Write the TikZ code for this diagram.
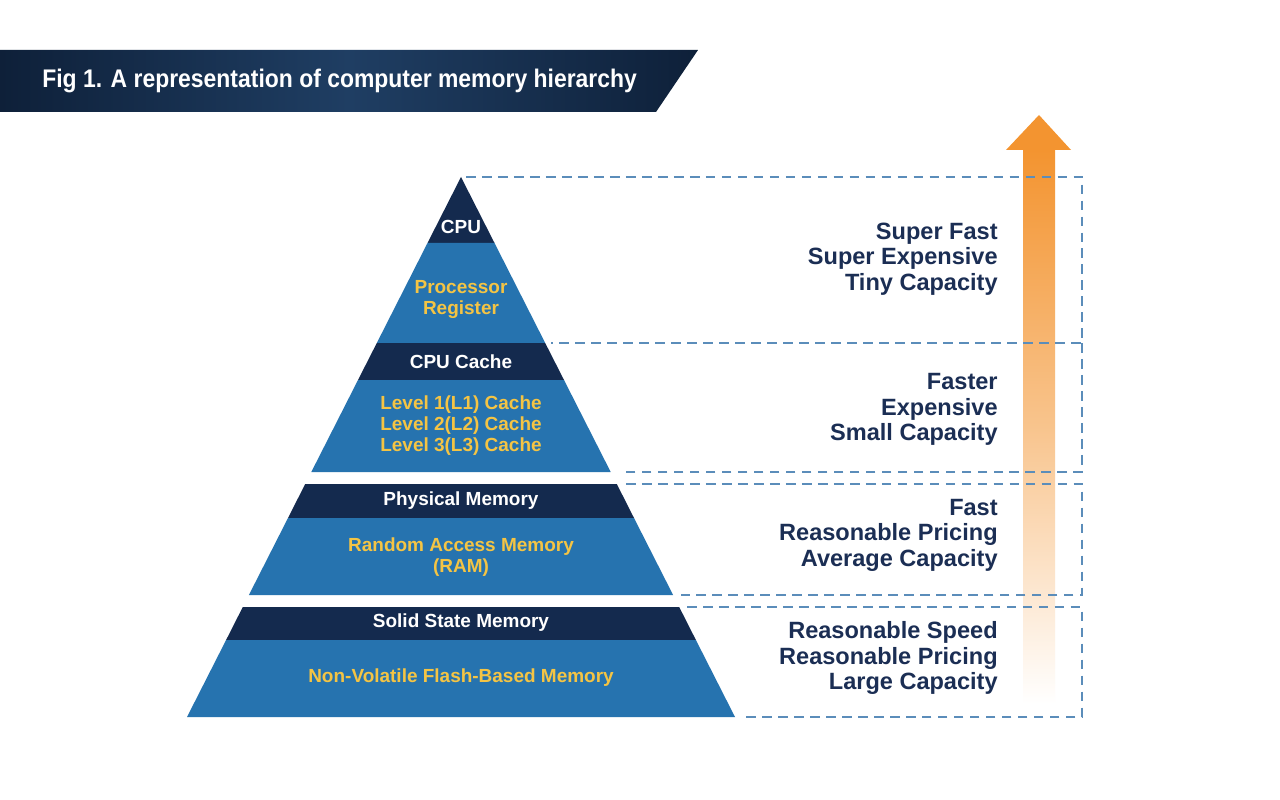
\documentclass[tikz,border=0pt]{standalone}
\usepackage{fontspec}
\setmainfont{Liberation Sans}
\newfontfamily\titlefont[FakeStretch=0.9]{Liberation Sans}
\usetikzlibrary{calc}
\definecolor{navy}{HTML}{142A4E}
\definecolor{midblue}{HTML}{2673AF}
\definecolor{gold}{HTML}{F4C444}
\definecolor{txtnavy}{HTML}{1B2E54}
\definecolor{dashblue}{HTML}{5B8DBA}
\definecolor{orng}{HTML}{F39430}
\definecolor{bannerdark}{HTML}{0E2039}
\definecolor{bannermid}{HTML}{1F3E63}
\tikzset{
  darkband/.style={fill=navy, draw=none},
  midband/.style={fill=midblue, draw=none},
  wlabel/.style={text=white, font=\fontsize{10.8}{11.9}\selectfont\bfseries, align=center, inner sep=0pt},
  ylabel/.style={text=gold, font=\fontsize{10.8}{11.9}\selectfont\bfseries, align=center, inner sep=0pt},
  rlabel/.style={text=txtnavy, font=\fontsize{13.4}{14.5}\selectfont\bfseries, align=right, anchor=east, inner sep=0pt},
  dashline/.style={draw=dashblue, line width=0.75pt, dash pattern=on 5.5pt off 3.6pt}
}
\begin{document}
\begin{tikzpicture}[x=0.02cm, y=-0.02cm]
\useasboundingbox (0,0) rectangle (1280,800);
\fill[white] (0,0) rectangle (1280,800);

% title banner
\shade[left color=bannerdark, right color=bannerdark, middle color=bannermid]
  (0,50) -- (698,50) -- (656,112) -- (0,112) -- cycle;
\node[anchor=west, text=white, inner sep=0pt, font=\titlefont\fontsize{14.5}{16}\selectfont\bfseries] (title) at (42,81) {Fig 1. A representation of computer memory hierarchy};

% pyramid (apex (461,177), half-width slope 0.5074)
\fill[darkband] (461,177) -- (494.5,243) -- (427.5,243) -- cycle;
\fill[midband] (427.5,243) -- (494.5,243) -- (545.2,343) -- (376.8,343) -- cycle;
\fill[darkband] (376.8,343) -- (545.2,343) -- (564,380) -- (358,380) -- cycle;
\fill[midband] (358,380) -- (564,380) -- (610.7,472) -- (311.3,472) -- cycle;
\fill[darkband] (305.2,484) -- (616.8,484) -- (634,518) -- (288,518) -- cycle;
\fill[midband] (288,518) -- (634,518) -- (673.1,595) -- (248.9,595) -- cycle;
\fill[darkband] (242.8,607) -- (679.2,607) -- (695.9,640) -- (226.1,640) -- cycle;
\fill[midband] (226.1,640) -- (695.9,640) -- (735,717) -- (187,717) -- cycle;

% pyramid labels
\node[wlabel] (cpu) at (461,227) {CPU};
\node[ylabel] (reg) at (461,299.5) {Processor\\Register};
\node[wlabel] (cache) at (461,362) {CPU Cache};
\node[ylabel] (levels) at (461,425.5) {Level 1(L1) Cache\\Level 2(L2) Cache\\Level 3(L3) Cache};
\node[wlabel] (phys) at (461,501) {Physical Memory};
\node[ylabel] (ram) at (461,557) {Random Access Memory\\(RAM)};
\node[wlabel] (ssd) at (461,623) {Solid State Memory};
\node[ylabel] (flash) at (461,678) {Non-Volatile Flash-Based Memory};

% arrow
\shade[top color=orng, bottom color=white, middle color=orng!55!white] (1023,150) rectangle (1055,704);
\fill[orng] (1039,115) -- (1071,150) -- (1006,150) -- cycle;

% dashed frames
\draw[dashline] (466,177) -- (1082,177) -- (1082,343) -- (551,343);
\draw[dashline] (1082,343) -- (1082,472) -- (620,472);
\draw[dashline] (626,484) -- (1082,484) -- (1082,595) -- (681,595);
\draw[dashline] (687,607) -- (1082,607) -- (1082,717) -- (741,717);

% right-hand descriptions
\node[rlabel] (d1) at (998,259) {Super Fast\\Super Expensive\\Tiny Capacity};
\node[rlabel] (d2) at (998,409.5) {Faster\\Expensive\\Small Capacity};
\node[rlabel] (d3) at (998,535) {Fast\\Reasonable Pricing\\Average Capacity};
\node[rlabel] (d4) at (998,658) {Reasonable Speed\\Reasonable Pricing\\Large Capacity};
\end{tikzpicture}
\end{document}
